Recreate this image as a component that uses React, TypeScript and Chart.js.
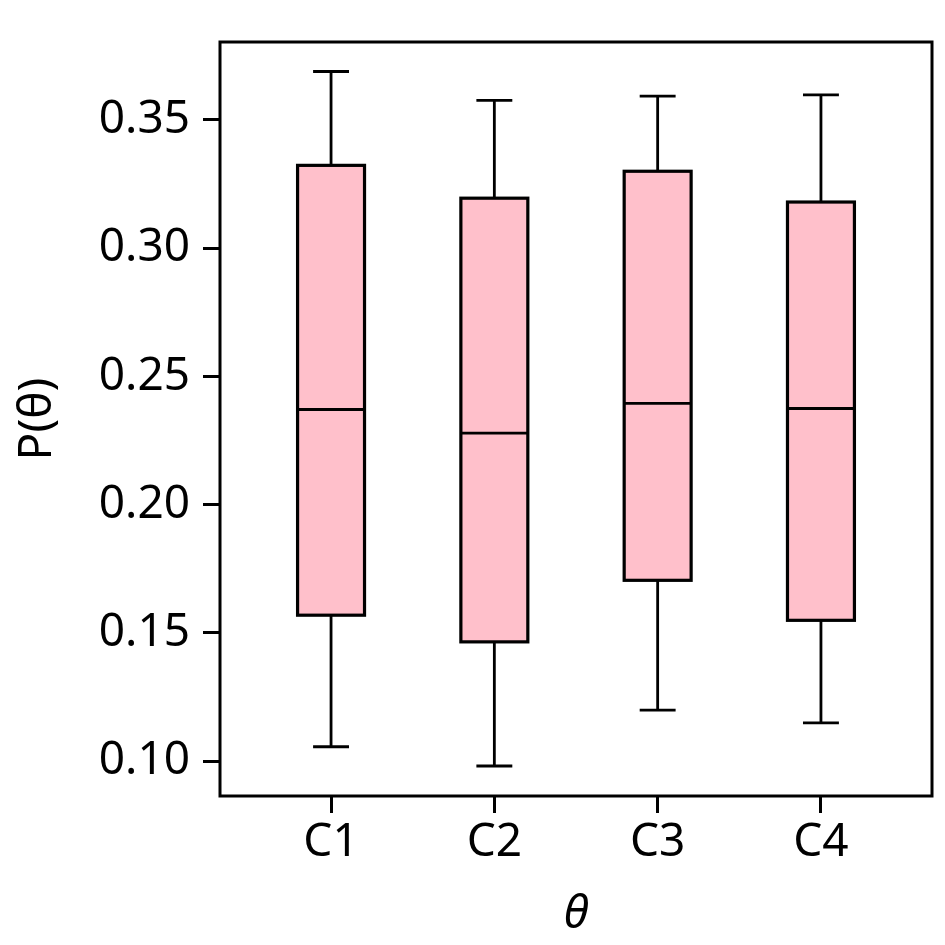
import React, { useEffect, useRef } from 'react';
import { Chart, registerables, ChartConfiguration, Plugin } from 'chart.js';

Chart.register(...registerables);

const categories = ['C1', 'C2', 'C3', 'C4'];
const whiskerLow = [0.1056, 0.0981, 0.1199, 0.1149];
const q1 = [0.1569, 0.1465, 0.1705, 0.1549];
const medians = [0.2371, 0.2279, 0.2395, 0.2375];
const q3 = [0.3323, 0.3195, 0.33, 0.318];
const whiskerHigh = [0.3689, 0.3576, 0.3593, 0.3598];
const yTicks = [0.1, 0.15, 0.2, 0.25, 0.3, 0.35];

const FONT = "'Noto Sans', 'Open Sans', sans-serif";

// draws the boxes, whiskers and the frame round the plot
const boxPlugin: Plugin = {
  id: 'boxes',
  afterDatasetsDraw(chart) {
    const { ctx, chartArea } = chart;
    const x = chart.scales.x;
    const y = chart.scales.y;
    ctx.save();
    categories.forEach((_, i) => {
      const cx = x.getPixelForValue(i + 1);
      const left = x.getPixelForValue(i + 1 - 0.205);
      const right = x.getPixelForValue(i + 1 + 0.205);
      const capL = x.getPixelForValue(i + 1 - 0.11);
      const capR = x.getPixelForValue(i + 1 + 0.11);
      const yLo = y.getPixelForValue(whiskerLow[i]);
      const yQ1 = y.getPixelForValue(q1[i]);
      const yMed = y.getPixelForValue(medians[i]);
      const yQ3 = y.getPixelForValue(q3[i]);
      const yHi = y.getPixelForValue(whiskerHigh[i]);

      ctx.strokeStyle = '#000';
      ctx.lineWidth = 2.8;
      ctx.beginPath();
      ctx.moveTo(cx, yQ3);
      ctx.lineTo(cx, yHi);
      ctx.moveTo(capL, yHi);
      ctx.lineTo(capR, yHi);
      ctx.moveTo(cx, yQ1);
      ctx.lineTo(cx, yLo);
      ctx.moveTo(capL, yLo);
      ctx.lineTo(capR, yLo);
      ctx.stroke();

      ctx.fillStyle = '#FFC0CB';
      ctx.fillRect(left, yQ3, right - left, yQ1 - yQ3);
      ctx.lineWidth = 3.2;
      ctx.strokeRect(left, yQ3, right - left, yQ1 - yQ3);
      ctx.lineWidth = 2.8;
      ctx.beginPath();
      ctx.moveTo(left, yMed);
      ctx.lineTo(right, yMed);
      ctx.stroke();
    });
    ctx.lineWidth = 3;
    ctx.strokeStyle = '#000';
    ctx.strokeRect(chartArea.left, chartArea.top, chartArea.right - chartArea.left, chartArea.bottom - chartArea.top);
    ctx.restore();
  },
};

const BoxChart: React.FC = () => {
  const canvasRef = useRef<HTMLCanvasElement>(null);
  const chartRef = useRef<Chart | null>(null);

  useEffect(() => {
    if (!canvasRef.current) return;
    if (chartRef.current) chartRef.current.destroy();

    const config: ChartConfiguration = {
      type: 'scatter',
      data: {
        datasets: [
          {
            label: 'median',
            data: medians.map((m, i) => ({ x: i + 1, y: m })),
            pointRadius: 0,
          },
        ],
      },
      options: {
        animation: false,
        responsive: true,
        maintainAspectRatio: false,
        layout: { padding: { left: 0, right: 13, top: 42, bottom: 0 } },
        plugins: { legend: { display: false }, tooltip: { enabled: false } },
        scales: {
          x: {
            type: 'linear',
            min: 0.32,
            max: 4.68,
            afterBuildTicks: (scale) => {
              scale.ticks = categories.map((_, i) => ({ value: i + 1 }));
            },
            afterFit: (scale) => {
              scale.height = 149;
            },
            ticks: {
              callback: (v) => categories[Number(v) - 1] ?? '',
              color: '#000',
              font: { family: FONT, size: 46 },
              padding: 2,
              maxRotation: 0,
              autoSkip: false,
            },
            grid: {
              drawOnChartArea: false,
              tickLength: 17,
              tickWidth: 3,
              tickColor: '#000',
            },
            border: { display: false },
            title: {
              display: true,
              text: 'θ',
              color: '#000',
              font: { family: FONT, size: 46, style: 'italic' },
              padding: { top: 0, bottom: 3 },
            },
          },
          y: {
            type: 'linear',
            min: 0.0864,
            max: 0.3804,
            afterBuildTicks: (scale) => {
              scale.ticks = yTicks.map((v) => ({ value: v }));
            },
            afterFit: (scale) => {
              scale.width = 220;
            },
            ticks: {
              callback: (v) => Number(v).toFixed(2),
              color: '#000',
              font: { family: FONT, size: 46 },
              padding: 13,
            },
            grid: {
              drawOnChartArea: false,
              tickLength: 17,
              tickWidth: 3,
              tickColor: '#000',
            },
            border: { display: false },
            title: {
              display: true,
              text: 'P(θ)',
              color: '#000',
              font: { family: FONT, size: 46 },
              padding: { top: 10, bottom: 0 },
            },
          },
        },
      },
      plugins: [boxPlugin],
    };

    chartRef.current = new Chart(canvasRef.current, config);
    return () => {
      if (chartRef.current) {
        chartRef.current.destroy();
        chartRef.current = null;
      }
    };
  }, []);

  return (
    <div style={{ position: 'fixed', left: 0, top: 0, width: 945, height: 945, background: '#fff' }}>
      <canvas ref={canvasRef}></canvas>
    </div>
  );
};

export default function App() {
  return <BoxChart />;
}
